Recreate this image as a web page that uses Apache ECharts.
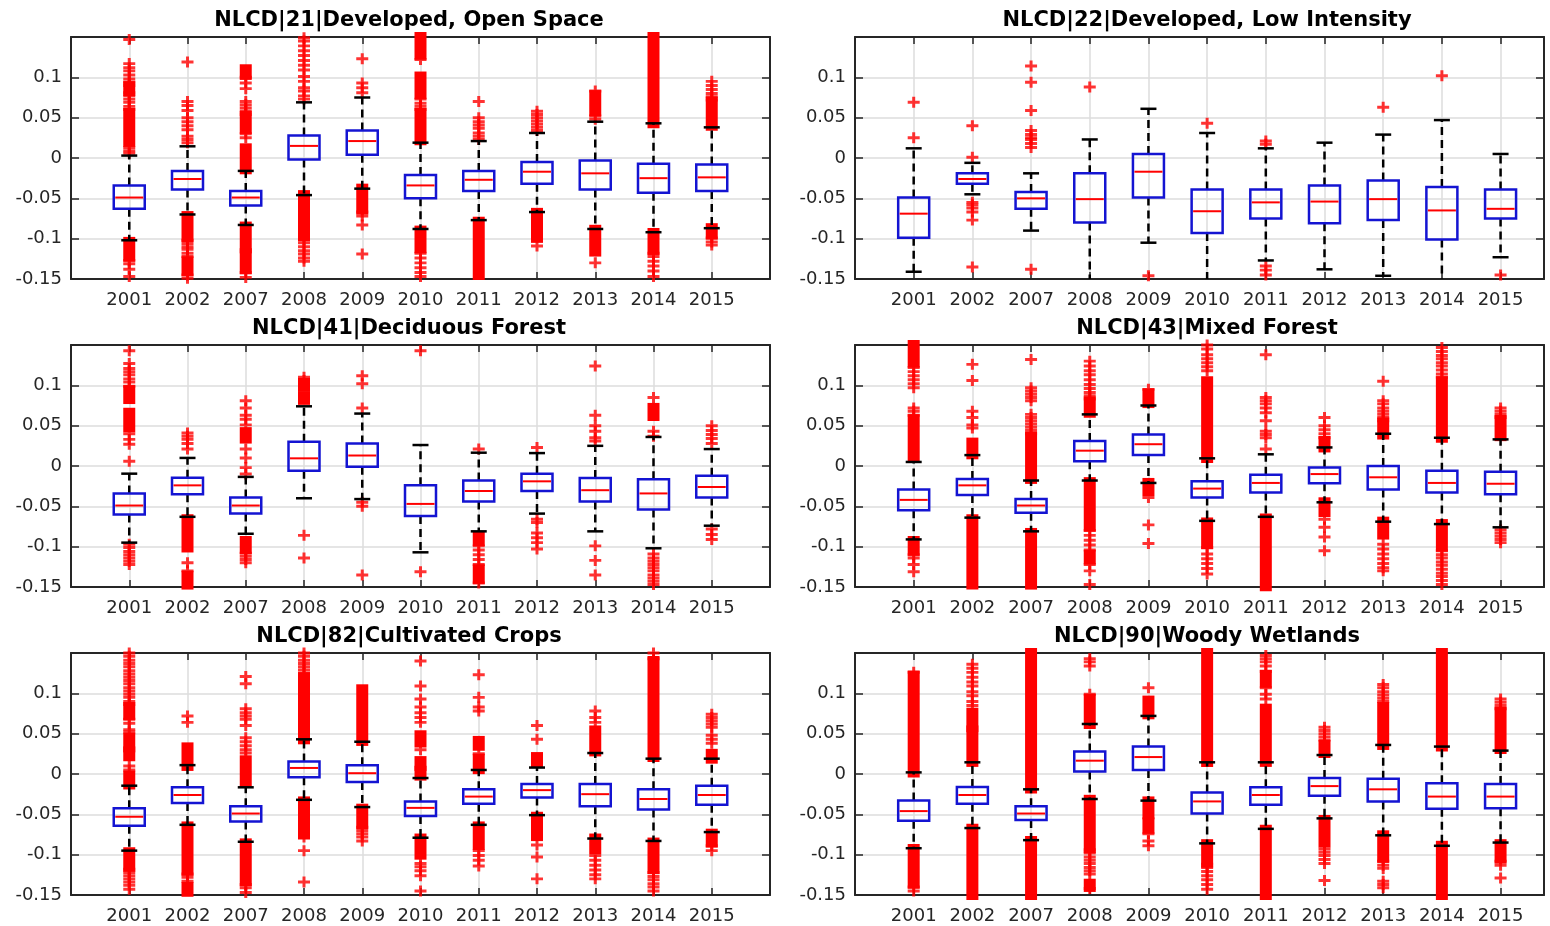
<!DOCTYPE html>
<html>
<head>
<meta charset="utf-8">
<script src="https://cdn.jsdelivr.net/npm/echarts@6/dist/echarts.min.js"></script>
<style>
  html, body { margin: 0; padding: 0; background: #fff; }
  #main { width: 1550px; height: 926px; }
</style>
</head>
<body>
<div id="main"></div>
<script>
// NLCD boxplots, one panel per land cover class
var years = ['2001', '2002', '2007', '2008', '2009', '2010', '2011', '2012', '2013', '2014', '2015'];
var yTickLabels = ['-0.15', '-0.1', '-0.05', '0', '0.05', '0.1', ''];
var titles = ['NLCD|21|Developed, Open Space', 'NLCD|22|Developed, Low Intensity',
              'NLCD|41|Deciduous Forest', 'NLCD|43|Mixed Forest',
              'NLCD|82|Cultivated Crops', 'NLCD|90|Woody Wetlands'];

// box stats per year: [lower whisker, q1, median, q3, upper whisker]
// outXX = single outliers, denseXX = runs of outliers so close they overlap [lo, hi]
var box21 = [
  [-0.102, -0.063, -0.049, -0.034, 0.003], [-0.070, -0.039, -0.026, -0.016, 0.0145],
  [-0.083, -0.059, -0.049, -0.041, -0.016], [-0.046, -0.002, 0.015, 0.028, 0.069],
  [-0.038, 0.004, 0.021, 0.034, 0.075], [-0.088, -0.050, -0.034, -0.021, 0.019],
  [-0.077, -0.041, -0.027, -0.016, 0.021], [-0.067, -0.032, -0.017, -0.005, 0.031],
  [-0.088, -0.039, -0.019, -0.003, 0.045], [-0.092, -0.043, -0.025, -0.007, 0.043],
  [-0.087, -0.041, -0.024, -0.008, 0.038]
];
var out21 = [
  [0.147, 0.117, 0.112, 0.108, 0.103, 0.098, 0.094, 0.090, 0.081, 0.077, 0.073, 0.069, 0.064, 0.060, 0.013, 0.009, 0.006, -0.127, -0.131, -0.138, -0.147],
  [0.119, 0.070, 0.065, 0.059, 0.050, 0.045, 0.040, 0.035, 0.027, 0.023, 0.019, -0.102, -0.106, -0.110, -0.113, -0.118, -0.122, -0.145, -0.149],
  [0.100, 0.093, 0.086, 0.070, 0.066, 0.062, 0.058, 0.054, 0.030, 0.025, -0.142, -0.148],
  [0.149, 0.145, 0.139, 0.133, 0.127, 0.121, 0.115, 0.109, 0.101, 0.095, 0.087, 0.083, 0.077, 0.073, -0.101, -0.105, -0.110, -0.115, -0.119, -0.124, -0.128],
  [0.123, 0.093, 0.087, 0.081, -0.067, -0.072, -0.083, -0.119],
  [0.122, 0.073, 0.068, 0.064, 0.060, -0.118, -0.124, -0.130, -0.136, -0.142, -0.147],
  [0.070, 0.050, 0.045, 0.041, 0.037, 0.031, 0.027, 0.023],
  [0.058, 0.054, 0.050, 0.046, 0.042, 0.038, 0.034, -0.109],
  [0.083, 0.052, 0.048, -0.130],
  [-0.118, -0.122, -0.128, -0.134, -0.140, -0.147],
  [0.095, 0.090, 0.085, 0.080, 0.076, 0.072, -0.099, -0.104, -0.108]
];
var dense21 = [
  [[0.020, 0.056], [0.083, 0.089], [-0.122, -0.104]],
  [[-0.098, -0.072], [-0.140, -0.128]],
  [[0.103, 0.110], [0.036, 0.052], [-0.014, 0.012], [-0.112, -0.085], [-0.138, -0.118]],
  [[-0.097, -0.046]],
  [[-0.064, -0.038]],
  [[0.128, 0.150], [0.079, 0.101], [0.022, 0.056], [-0.112, -0.090]],
  [[-0.145, -0.079]],
  [[-0.099, -0.068]],
  [[0.058, 0.078], [-0.116, -0.089]],
  [[0.043, 0.150], [-0.114, -0.093]],
  [[0.040, 0.070], [-0.095, -0.087]]
];

var box22 = [
  [-0.141, -0.099, -0.069, -0.049, 0.012], [-0.045, -0.032, -0.026, -0.019, -0.006],
  [-0.090, -0.063, -0.050, -0.042, -0.019], [-0.160, -0.080, -0.051, -0.019, 0.023],
  [-0.105, -0.049, -0.017, 0.005, 0.061], [-0.160, -0.093, -0.066, -0.039, 0.031],
  [-0.127, -0.075, -0.055, -0.039, 0.012], [-0.138, -0.081, -0.054, -0.034, 0.019],
  [-0.146, -0.077, -0.051, -0.028, 0.029], [-0.160, -0.101, -0.065, -0.036, 0.047],
  [-0.123, -0.075, -0.063, -0.039, 0.005]
];
var out22 = [
  [0.069, 0.025],
  [0.040, 0.001, -0.055, -0.058, -0.062, -0.067, -0.077, -0.135],
  [0.114, 0.094, 0.059, 0.034, 0.029, 0.025, 0.023, 0.018, 0.013, -0.138],
  [0.088],
  [-0.146],
  [0.043],
  [0.021, 0.017, -0.134, -0.139, -0.145],
  [],
  [0.063],
  [0.102],
  [-0.145]
];
var dense22 = [[], [], [], [], [], [], [], [], [], [], []];

var box41 = [
  [-0.095, -0.060, -0.049, -0.034, -0.0095], [-0.063, -0.035, -0.024, -0.0145, 0.010],
  [-0.084, -0.059, -0.049, -0.039, -0.0135], [-0.040, -0.006, 0.0095, 0.030, 0.074],
  [-0.041, -0.001, 0.013, 0.028, 0.065], [-0.107, -0.062, -0.047, -0.024, 0.026],
  [-0.081, -0.044, -0.031, -0.018, 0.0165], [-0.059, -0.031, -0.019, -0.0095, 0.016],
  [-0.081, -0.044, -0.030, -0.015, 0.025], [-0.102, -0.054, -0.034, -0.0165, 0.036],
  [-0.074, -0.039, -0.026, -0.012, 0.021]
];
var out41 = [
  [0.143, 0.127, 0.121, 0.117, 0.113, 0.108, 0.104, 0.099, 0.040, 0.033, 0.027, 0.006, -0.097, -0.101, -0.106, -0.110, -0.114, -0.118, -0.122],
  [0.041, 0.037, 0.033, 0.028, 0.021, -0.120, -0.130],
  [0.081, 0.072, 0.063, 0.058, 0.051, 0.021, 0.010, -0.002, -0.010, -0.108, -0.112, -0.116, -0.120],
  [0.110, 0.106, -0.086, -0.114],
  [0.112, 0.102, 0.072, -0.045, -0.050, -0.135],
  [0.143, -0.131],
  [0.021, -0.099, -0.104, -0.110, -0.116, -0.122, -0.145],
  [0.023, -0.066, -0.070, -0.083, -0.089, -0.095, -0.103],
  [0.124, 0.063, 0.050, 0.043, 0.035, 0.031, -0.099, -0.117, -0.135],
  [0.085, 0.043, 0.037, -0.109, -0.114, -0.118, -0.122, -0.126, -0.130, -0.135, -0.139, -0.143, -0.147],
  [0.050, 0.044, 0.039, 0.034, 0.028, -0.078, -0.085, -0.091]
];
var dense41 = [
  [[0.083, 0.094], [0.048, 0.066]],
  [[-0.101, -0.066], [-0.147, -0.136]],
  [[0.034, 0.042], [-0.103, -0.093]],
  [[0.098, 0.103], [0.082, 0.086]],
  [], [],
  [[-0.093, -0.087], [-0.140, -0.128]],
  [], [],
  [[0.062, 0.072]],
  []
];

var box43 = [
  [-0.091, -0.055, -0.042, -0.029, 0.005], [-0.064, -0.036, -0.024, -0.016, 0.0135],
  [-0.081, -0.058, -0.049, -0.041, -0.018], [-0.018, 0.006, 0.019, 0.031, 0.064],
  [-0.021, 0.0135, 0.027, 0.039, 0.075], [-0.068, -0.039, -0.028, -0.019, 0.0095],
  [-0.063, -0.033, -0.021, -0.011, 0.0145], [-0.045, -0.0215, -0.010, -0.002, 0.023],
  [-0.069, -0.029, -0.014, 0.000, 0.040], [-0.072, -0.033, -0.021, -0.006, 0.035],
  [-0.076, -0.035, -0.022, -0.007, 0.033]
];
var out43 = [
  [0.122, 0.117, 0.112, 0.107, 0.102, 0.097, 0.072, 0.068, 0.063, -0.110, -0.114, -0.122, -0.131],
  [0.126, 0.106, 0.068, 0.060, 0.051, 0.047],
  [0.132, 0.097, 0.093, 0.089, 0.085, 0.081, 0.064, 0.060, 0.056, 0.052, 0.048, 0.044, 0.040],
  [0.130, 0.124, 0.118, 0.113, 0.107, 0.101, 0.096, 0.091, 0.087, 0.083, -0.080, -0.086, -0.092, -0.098, -0.104, -0.122, -0.130, -0.147],
  [0.095, -0.039, -0.073, -0.096],
  [0.150, 0.145, 0.138, 0.133, 0.128, 0.123, 0.118, -0.101, -0.109, -0.115, -0.121, -0.127, -0.134],
  [0.138, 0.085, 0.081, 0.077, 0.072, 0.066, 0.056, 0.043, 0.039, 0.035, 0.021],
  [0.060, 0.050, 0.045, 0.040, 0.035, -0.066, -0.076, -0.088, -0.105],
  [0.105, 0.081, 0.077, 0.072, 0.068, 0.064, 0.060, 0.056, -0.097, -0.103, -0.109, -0.115, -0.121, -0.126, -0.130],
  [0.147, 0.142, 0.137, 0.133, 0.128, 0.124, 0.119, 0.114, 0.110, -0.105, -0.110, -0.114, -0.119, -0.123, -0.128, -0.133, -0.137, -0.142, -0.147],
  [0.072, 0.068, 0.064, 0.060, -0.079, -0.083, -0.087, -0.091, -0.095]
];
var dense43 = [
  [[0.128, 0.150], [0.010, 0.058], [-0.105, -0.093]],
  [[0.0145, 0.029], [-0.147, -0.066]],
  [[-0.016, 0.036], [-0.147, -0.083]],
  [[0.066, 0.080], [-0.075, -0.020], [-0.116, -0.110]],
  [[0.078, 0.090], [-0.031, -0.021]],
  [[0.010, 0.105], [-0.097, -0.070]],
  [[-0.149, -0.065]],
  [[0.023, 0.031], [-0.057, -0.045]],
  [[0.039, 0.054], [-0.085, -0.069]],
  [[0.035, 0.105], [-0.100, -0.072]],
  [[0.037, 0.057]]
];

var box82 = [
  [-0.095, -0.064, -0.053, -0.0425, -0.0145], [-0.063, -0.036, -0.026, -0.0165, 0.011],
  [-0.084, -0.059, -0.049, -0.040, -0.0165], [-0.032, -0.004, 0.0075, 0.0155, 0.043],
  [-0.041, -0.010, 0.001, 0.011, 0.040], [-0.079, -0.052, -0.042, -0.034, -0.005],
  [-0.063, -0.037, -0.028, -0.019, 0.005], [-0.051, -0.029, -0.020, -0.0125, 0.008],
  [-0.080, -0.040, -0.025, -0.0125, 0.026], [-0.083, -0.044, -0.031, -0.019, 0.019],
  [-0.072, -0.038, -0.026, -0.0145, 0.019]
];
var out82 = [
  [0.150, 0.146, 0.141, 0.137, 0.133, 0.128, 0.124, 0.120, 0.116, 0.112, 0.107, 0.103, 0.099, 0.095, 0.090, 0.086, 0.068, 0.063, 0.055, 0.052, 0.010, 0.005, -0.118, -0.122, -0.126, -0.130, -0.134, -0.138, -0.143],
  [0.072, 0.064, -0.124, -0.128, -0.133],
  [0.121, 0.112, 0.081, 0.076, 0.072, 0.068, 0.060, 0.045, 0.040, 0.035, 0.030, 0.026, -0.137, -0.141, -0.147],
  [0.150, 0.146, 0.141, 0.137, 0.133, 0.129, 0.125, -0.078, -0.095, -0.134],
  [-0.066, -0.070, -0.074, -0.078, -0.083],
  [0.140, 0.109, 0.093, 0.083, 0.076, 0.070, 0.064, 0.030, -0.111, -0.115, -0.120, -0.126, -0.145],
  [0.123, 0.095, 0.083, 0.078, 0.025, -0.095, -0.101, -0.107, -0.114],
  [0.060, 0.043, -0.088, -0.103, -0.130],
  [0.078, 0.070, 0.064, -0.101, -0.107, -0.113, -0.119, -0.125, -0.130],
  [0.150, 0.143, -0.122, -0.127, -0.131, -0.136, -0.140, -0.145],
  [0.074, 0.070, 0.066, 0.062, 0.058, 0.048, 0.043, 0.038, -0.089, -0.095]
];
var dense82 = [
  [[0.073, 0.083], [0.033, 0.045], [0.022, 0.028], [-0.013, -0.002], [-0.115, -0.097]],
  [[0.010, 0.033], [-0.120, -0.065], [-0.146, -0.140]],
  [[-0.010, 0.017], [-0.133, -0.086]],
  [[0.043, 0.120], [-0.075, -0.034]],
  [[0.041, 0.105], [-0.062, -0.043]],
  [[0.039, 0.048], [0.010, 0.016], [-0.002, 0.004], [-0.100, -0.080]],
  [[0.035, 0.041], [0.006, 0.019], [-0.088, -0.065]],
  [[0.0145, 0.021], [-0.077, -0.053]],
  [[0.028, 0.054], [-0.093, -0.080]],
  [[0.021, 0.140], [-0.118, -0.085]],
  [[0.019, 0.025], [-0.085, -0.074]]
];

var box90 = [
  [-0.092, -0.058, -0.046, -0.033, 0.002], [-0.067, -0.037, -0.026, -0.016, 0.0145],
  [-0.082, -0.057, -0.049, -0.040, -0.019], [-0.031, 0.003, 0.0165, 0.028, 0.062],
  [-0.033, 0.005, 0.021, 0.034, 0.072], [-0.086, -0.049, -0.034, -0.023, 0.0145],
  [-0.068, -0.038, -0.026, -0.0165, 0.0145], [-0.055, -0.027, -0.015, -0.005, 0.0235],
  [-0.076, -0.034, -0.019, -0.006, 0.036], [-0.089, -0.043, -0.028, -0.0115, 0.034],
  [-0.085, -0.0425, -0.028, -0.0125, 0.029]
];
var out90 = [
  [0.126, -0.140, -0.145],
  [0.136, 0.131, 0.126, 0.120, 0.114, 0.109, 0.102, 0.097, 0.090, 0.085],
  [],
  [0.143, 0.139, 0.134, 0.099, -0.094, -0.098, -0.103, -0.107, -0.111, -0.116, -0.120, -0.124, -0.142],
  [0.107, -0.074, -0.083, -0.089],
  [-0.112, -0.116, -0.121, -0.126, -0.131, -0.137, -0.143],
  [0.147, 0.143, 0.139, 0.134, 0.127, 0.107, 0.099, 0.093],
  [0.058, 0.054, 0.050, 0.046, 0.042, -0.093, -0.097, -0.101, -0.106, -0.111, -0.132],
  [0.111, 0.107, 0.102, 0.098, 0.094, 0.090, -0.108, -0.113, -0.117, -0.133, -0.137, -0.141],
  [],
  [0.093, 0.089, 0.085, 0.081, -0.108, -0.113, -0.129]
];
var dense90 = [
  [[0.002, 0.122], [-0.136, -0.093]],
  [[0.058, 0.076], [0.015, 0.054], [-0.150, -0.068]],
  [[-0.018, 0.150], [-0.150, -0.083]],
  [[0.062, 0.093], [-0.092, -0.032], [-0.140, -0.136]],
  [[0.074, 0.091], [-0.050, -0.034], [-0.068, -0.060]],
  [[0.015, 0.150], [-0.110, -0.087]],
  [[0.113, 0.123], [0.015, 0.081], [-0.150, -0.069]],
  [[0.026, 0.036], [-0.085, -0.057]],
  [[0.036, 0.083], [-0.104, -0.076]],
  [[0.034, 0.150], [-0.150, -0.089]],
  [[0.031, 0.077], [-0.105, -0.087]]
];

var panels = [
  { box: box21, out: out21, dense: dense21 }, { box: box22, out: out22, dense: dense22 },
  { box: box41, out: out41, dense: dense41 }, { box: box43, out: out43, dense: dense43 },
  { box: box82, out: out82, dense: dense82 }, { box: box90, out: out90, dense: dense90 }
];

var myChart = echarts.init(document.getElementById('main'));

var FONT = 'DejaVu Sans';
var AX = '#262626';
var YMIN = -0.15, YMAX = 0.15;
var colLeft = [71, 855], colWidth = [699, 689], colXMax = [12, 11.74], titleX = [409, 1207];
var rowTop = [37, 345, 653], rowH = 242;
var plusPath = 'path://M0,3.65H3.75V0H6.25V3.65H10V6.35H6.25V10H3.75V6.35H0Z';

function clampY(v) { return Math.max(YMIN, Math.min(YMAX, v)); }

function renderBox(params, api) {
  var x = api.value(0);
  var lo = api.value(1), q1 = api.value(2), med = api.value(3), q3 = api.value(4), hi = api.value(5);
  var cx = api.coord([x, 0])[0];
  var yLo = api.coord([x, clampY(lo)])[1], yQ1 = api.coord([x, q1])[1];
  var yMed = api.coord([x, med])[1], yQ3 = api.coord([x, q3])[1];
  var yHi = api.coord([x, clampY(hi)])[1];
  var dash = { stroke: '#000', lineWidth: 2.5, lineDash: [8, 5] };
  var solid = { stroke: '#000', lineWidth: 2.5 };
  var kids = [
    { type: 'line', shape: { x1: cx, y1: yQ3, x2: cx, y2: yHi }, style: dash },
    { type: 'line', shape: { x1: cx, y1: yQ1, x2: cx, y2: yLo }, style: dash }
  ];
  if (hi <= YMAX) kids.push({ type: 'line', shape: { x1: cx - 8, y1: yHi, x2: cx + 8, y2: yHi }, style: solid });
  if (lo >= YMIN) kids.push({ type: 'line', shape: { x1: cx - 8, y1: yLo, x2: cx + 8, y2: yLo }, style: solid });
  kids.push({ type: 'rect', shape: { x: cx - 15.5, y: yQ3, width: 31, height: yQ1 - yQ3 },
              style: { fill: 'none', stroke: '#1414d2', lineWidth: 2.5 } });
  kids.push({ type: 'line', shape: { x1: cx - 14, y1: yMed, x2: cx + 14, y2: yMed },
              style: { stroke: '#ff0000', lineWidth: 2 } });
  return { type: 'group', children: kids };
}

function renderDense(params, api) {
  var x = api.value(0);
  var top = api.coord([x, api.value(2)]);
  var bot = api.coord([x, api.value(1)]);
  return { type: 'rect', shape: { x: top[0] - 6, y: top[1] - 5, width: 12, height: bot[1] - top[1] + 10 },
           style: { fill: '#ff0000' } };
}

var grid = [], xAxis = [], yAxis = [], title = [], series = [];

panels.forEach(function (p, i) {
  var c = i % 2, r = Math.floor(i / 2);
  grid.push({ left: colLeft[c], top: rowTop[r], width: colWidth[c], height: rowH, outerBoundsMode: 'none' });
  title.push({
    text: titles[i], left: titleX[c], top: rowTop[r] - 27, textAlign: 'center', padding: 0,
    textStyle: { fontFamily: FONT, fontSize: 21, fontWeight: 'bold', color: '#000' }
  });
  var xBase = {
    type: 'value', gridIndex: i, min: 0, max: colXMax[c], interval: 1,
    axisLine: { show: true, onZero: false, lineStyle: { color: AX, width: 2 } },
    axisTick: { show: true, inside: true, length: 7, lineStyle: { color: AX, width: 1.5 } }
  };
  xAxis.push(Object.assign({}, xBase, {
    position: 'bottom',
    axisLabel: {
      fontFamily: FONT, fontSize: 18, color: AX, margin: 12, showMaxLabel: true,
      formatter: function (v) { return years[v - 1] || ''; }
    },
    splitLine: { show: true, lineStyle: { color: '#dcdcdc', width: 1.5 } }
  }));
  xAxis.push(Object.assign({}, xBase, {
    position: 'top', axisLabel: { show: false }, splitLine: { show: false }
  }));
  var yBase = {
    type: 'value', gridIndex: i, min: YMIN, max: YMAX, interval: 0.05,
    axisLine: { show: true, onZero: false, lineStyle: { color: AX, width: 2 } },
    axisTick: { show: true, inside: true, length: 8, lineStyle: { color: AX, width: 1.5 } }
  };
  yAxis.push(Object.assign({}, yBase, {
    position: 'left',
    axisLabel: {
      fontFamily: FONT, fontSize: 18, color: AX, margin: 9,
      formatter: function (v) { return yTickLabels[Math.round((v - YMIN) / 0.05)]; }
    },
    splitLine: { show: true, lineStyle: { color: '#dcdcdc', width: 1.5 } }
  }));
  yAxis.push(Object.assign({}, yBase, {
    position: 'right', axisLabel: { show: false }, splitLine: { show: false }
  }));

  var outData = [], denseData = [], boxData = [];
  p.box.forEach(function (b, k) { boxData.push([k + 1].concat(b)); });
  p.out.forEach(function (arr, k) { arr.forEach(function (v) { outData.push([k + 1, v]); }); });
  p.dense.forEach(function (arr, k) { arr.forEach(function (d) { denseData.push([k + 1, d[0], d[1]]); }); });

  series.push({
    type: 'custom', xAxisIndex: 2 * i, yAxisIndex: 2 * i, renderItem: renderDense,
    encode: { x: 0, y: [1, 2] }, data: denseData, silent: true, z: 2
  });
  series.push({
    type: 'scatter', xAxisIndex: 2 * i, yAxisIndex: 2 * i, data: outData,
    symbol: plusPath, symbolSize: [12, 11], itemStyle: { color: '#ff0000' },
    clip: false, silent: true, z: 3
  });
  series.push({
    type: 'custom', xAxisIndex: 2 * i, yAxisIndex: 2 * i, renderItem: renderBox,
    encode: { x: 0, y: [1, 2, 3, 4, 5] }, data: boxData, silent: true, z: 4
  });
});

myChart.setOption({
  animation: false,
  backgroundColor: '#fff',
  title: title,
  grid: grid,
  xAxis: xAxis,
  yAxis: yAxis,
  series: series
});
</script>
</body>
</html>
